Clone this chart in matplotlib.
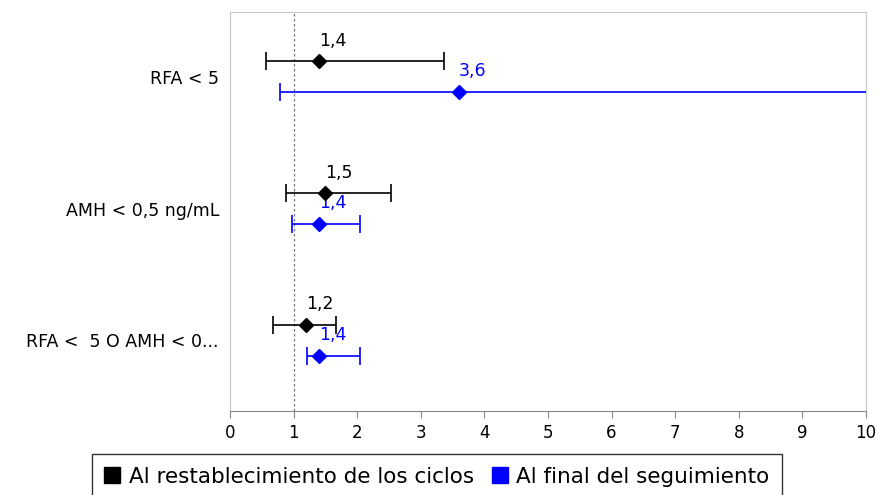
import numpy as np
import matplotlib.pyplot as plt
from matplotlib.lines import Line2D

plt.rcParams['font.family'] = ['DejaVu Sans']

categorias = ['RFA < 5', 'AMH < 0,5 ng/mL', 'RFA <  5 O AMH < 0...']
series = ['Al restablecimiento de los ciclos', 'Al final del seguimiento']
colores = ['black', '#0000ff']

# odds ratio con su intervalo de confianza
or_ciclos = [1.4, 1.5, 1.2]
li_ciclos = [0.56, 0.88, 0.68]
ls_ciclos = [3.37, 2.53, 1.67]

or_final = [3.6, 1.4, 1.4]
li_final = [0.79, 0.98, 1.21]
ls_final = [12.0, 2.05, 2.05]


def etiqueta(v):
    return f'{v:.1f}'.replace('.', ',')


def main():
    fig = plt.figure(figsize=(8.77, 4.95), dpi=100)
    ax = fig.add_axes([230 / 877, 1 - 411 / 495, 636 / 877, 399 / 495])

    pos = np.arange(len(categorias))
    desp = [-0.115, 0.115]
    datos = [(or_ciclos, li_ciclos, ls_ciclos), (or_final, li_final, ls_final)]

    ax.axvline(1, color='#777777', ls=(0, (2, 2)), lw=0.9, zorder=1)

    for k, (est, li, ls) in enumerate(datos):
        est = np.array(est)
        err = [est - np.array(li), np.array(ls) - est]
        y = pos + desp[k]
        ax.errorbar(est, y, xerr=err, fmt='D', color=colores[k], ms=7,
                    capsize=6.5, elinewidth=1.2, capthick=1.2, zorder=3)
        for xv, yv in zip(est, y):
            ax.annotate(etiqueta(xv), (xv, yv), xytext=(0, 8.5),
                        textcoords='offset points', ha='left', va='bottom',
                        color=colores[k], fontsize=12.5)

    ax.set_xlim(0, 10)
    ax.set_ylim(2.535, -0.49)
    ax.set_xticks(range(11))
    ax.set_yticks(pos)
    ax.set_yticklabels(categorias, fontsize=12.5)
    ax.tick_params(axis='y', length=0, pad=8)
    ax.tick_params(axis='x', length=5, color='#888888', labelsize=12, pad=4)
    for lado in ['top', 'right', 'left']:
        ax.spines[lado].set_color('#c8c8c8')
    ax.spines['bottom'].set_color('#888888')

    handles = [Line2D([], [], marker='s', ls='none', color=c, ms=11)
               for c in colores]
    x0, x1 = 92 / 877, 782 / 877
    leg = fig.legend(handles, series, loc='upper left',
                     bbox_to_anchor=(x0, 1 - 454 / 495 - 0.2, x1 - x0, 0.2),
                     mode='expand', ncol=2, frameon=True, fancybox=False,
                     fontsize=15.5, handlelength=0.7, handletextpad=0.4,
                     columnspacing=0.3, borderpad=0.6, borderaxespad=0)
    leg.get_frame().set_edgecolor('black')
    leg.get_frame().set_linewidth(1.0)

    fig.savefig('out.png', dpi=100)


if __name__ == '__main__':
    main()
